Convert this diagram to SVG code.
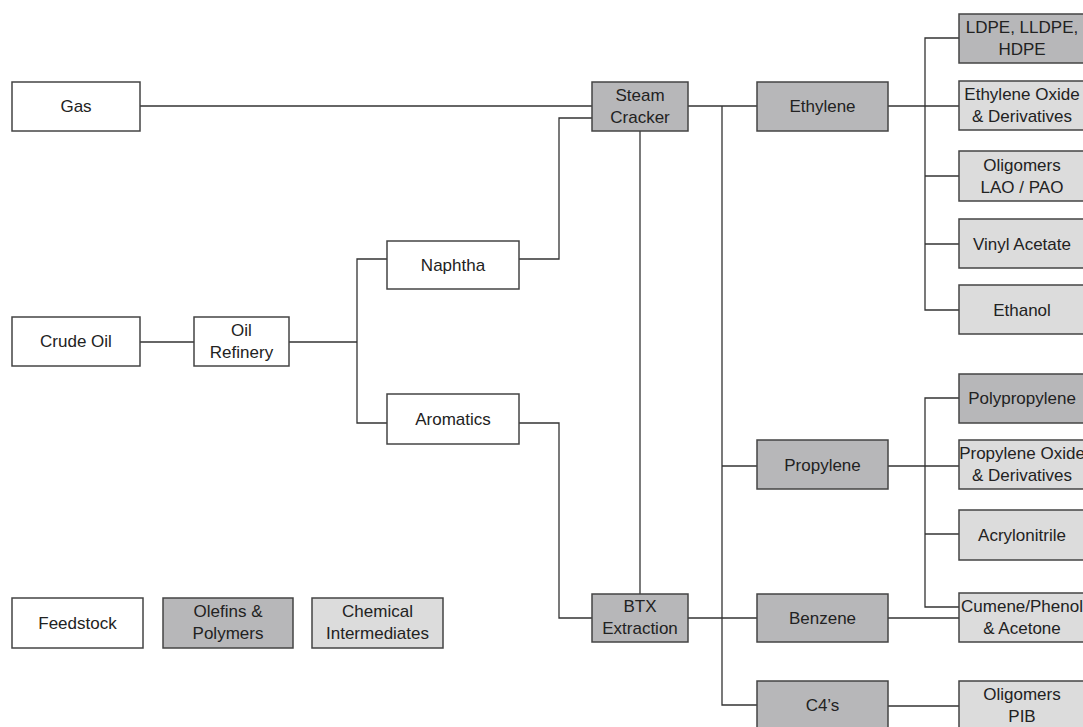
<svg xmlns="http://www.w3.org/2000/svg" width="1083" height="727" viewBox="0 0 1083 727">
<style>
.box{stroke:#444;stroke-width:1.5}
.feed{fill:#ffffff}
.olef{fill:#b7b7b9}
.chem{fill:#dcdcdc}
.t{font-family:"Liberation Sans",Arial,sans-serif;font-size:17px;fill:#222;text-anchor:middle}
.c{fill:none;stroke:#333;stroke-width:1.3}
</style>
<rect width="1083" height="727" fill="#fff"/>
<g id="connectors" class="c">
<path d="M140,106H592"/>
<path d="M140,342H194"/>
<path d="M289,342H357"/>
<path d="M387,259H357V423H387"/>
<path d="M519,259H559V118H592"/>
<path d="M519,423H559V618H592"/>
<path d="M640,131V594"/>
<path d="M688,106H757"/>
<path d="M688,618H757"/>
<path d="M722,106V705H757"/>
<path d="M722,466H757"/>
<path d="M888,106H959"/>
<path d="M959,38H925V310H959"/>
<path d="M925,176H959"/>
<path d="M925,244H959"/>
<path d="M888,466H959"/>
<path d="M959,398H925V607H959"/>
<path d="M925,534H959"/>
<path d="M888,618H959"/>
<path d="M888,706H959"/>
</g>
<g id="gas"><rect class="box feed" x="12" y="82" width="128" height="49"/><text class="t" x="76" y="112">Gas</text></g>
<g id="crude-oil"><rect class="box feed" x="12" y="317" width="128" height="49"/><text class="t" x="76" y="347">Crude Oil</text></g>
<g id="oil-refinery"><rect class="box feed" x="194" y="317" width="95" height="49"/><text class="t" x="241.5" y="336">Oil</text><text class="t" x="241.5" y="358">Refinery</text></g>
<g id="naphtha"><rect class="box feed" x="387" y="241" width="132" height="48"/><text class="t" x="453" y="271">Naphtha</text></g>
<g id="aromatics"><rect class="box feed" x="387" y="394" width="132" height="50"/><text class="t" x="453" y="425">Aromatics</text></g>
<g id="steam-cracker"><rect class="box olef" x="592" y="82" width="96" height="49"/><text class="t" x="640" y="101">Steam</text><text class="t" x="640" y="123">Cracker</text></g>
<g id="btx-extraction"><rect class="box olef" x="592" y="594" width="96" height="48"/><text class="t" x="640" y="612">BTX</text><text class="t" x="640" y="634">Extraction</text></g>
<g id="ethylene"><rect class="box olef" x="757" y="82" width="131" height="49"/><text class="t" x="822.5" y="112">Ethylene</text></g>
<g id="propylene"><rect class="box olef" x="757" y="440" width="131" height="49"/><text class="t" x="822.5" y="471">Propylene</text></g>
<g id="benzene"><rect class="box olef" x="757" y="594" width="131" height="48"/><text class="t" x="822.5" y="624">Benzene</text></g>
<g id="c4s"><rect class="box olef" x="757" y="681" width="131" height="60"/><text class="t" x="822.5" y="711">C4’s</text></g>
<g id="ldpe"><rect class="box olef" x="959" y="14" width="130" height="49"/><text class="t" x="1022" y="33">LDPE, LLDPE,</text><text class="t" x="1022" y="55">HDPE</text></g>
<g id="ethylene-oxide"><rect class="box chem" x="959" y="81" width="130" height="49"/><text class="t" x="1022" y="100">Ethylene Oxide</text><text class="t" x="1022" y="122">&amp; Derivatives</text></g>
<g id="oligomers-lao"><rect class="box chem" x="959" y="151" width="130" height="50"/><text class="t" x="1022" y="171">Oligomers</text><text class="t" x="1022" y="193">LAO / PAO</text></g>
<g id="vinyl-acetate"><rect class="box chem" x="959" y="219" width="130" height="49"/><text class="t" x="1022" y="250">Vinyl Acetate</text></g>
<g id="ethanol"><rect class="box chem" x="959" y="285" width="130" height="49"/><text class="t" x="1022" y="316">Ethanol</text></g>
<g id="polypropylene"><rect class="box olef" x="959" y="374" width="130" height="49"/><text class="t" x="1022" y="404">Polypropylene</text></g>
<g id="propylene-oxide"><rect class="box chem" x="959" y="440" width="130" height="49"/><text class="t" x="1022" y="459">Propylene Oxide</text><text class="t" x="1022" y="481">&amp; Derivatives</text></g>
<g id="acrylonitrile"><rect class="box chem" x="959" y="510" width="130" height="50"/><text class="t" x="1022" y="541">Acrylonitrile</text></g>
<g id="cumene"><rect class="box chem" x="959" y="593" width="130" height="49"/><text class="t" x="1022" y="612">Cumene/Phenol</text><text class="t" x="1022" y="634">&amp; Acetone</text></g>
<g id="oligomers-pib"><rect class="box chem" x="959" y="681" width="130" height="60"/><text class="t" x="1022" y="700">Oligomers</text><text class="t" x="1022" y="722">PIB</text></g>
<g id="legend-feedstock"><rect class="box feed" x="12" y="598" width="131" height="50"/><text class="t" x="77.5" y="629">Feedstock</text></g>
<g id="legend-olefins"><rect class="box olef" x="163" y="598" width="130" height="50"/><text class="t" x="228" y="617">Olefins &amp;</text><text class="t" x="228" y="639">Polymers</text></g>
<g id="legend-chemical"><rect class="box chem" x="312" y="598" width="131" height="50"/><text class="t" x="377.5" y="617">Chemical</text><text class="t" x="377.5" y="639">Intermediates</text></g>
</svg>
